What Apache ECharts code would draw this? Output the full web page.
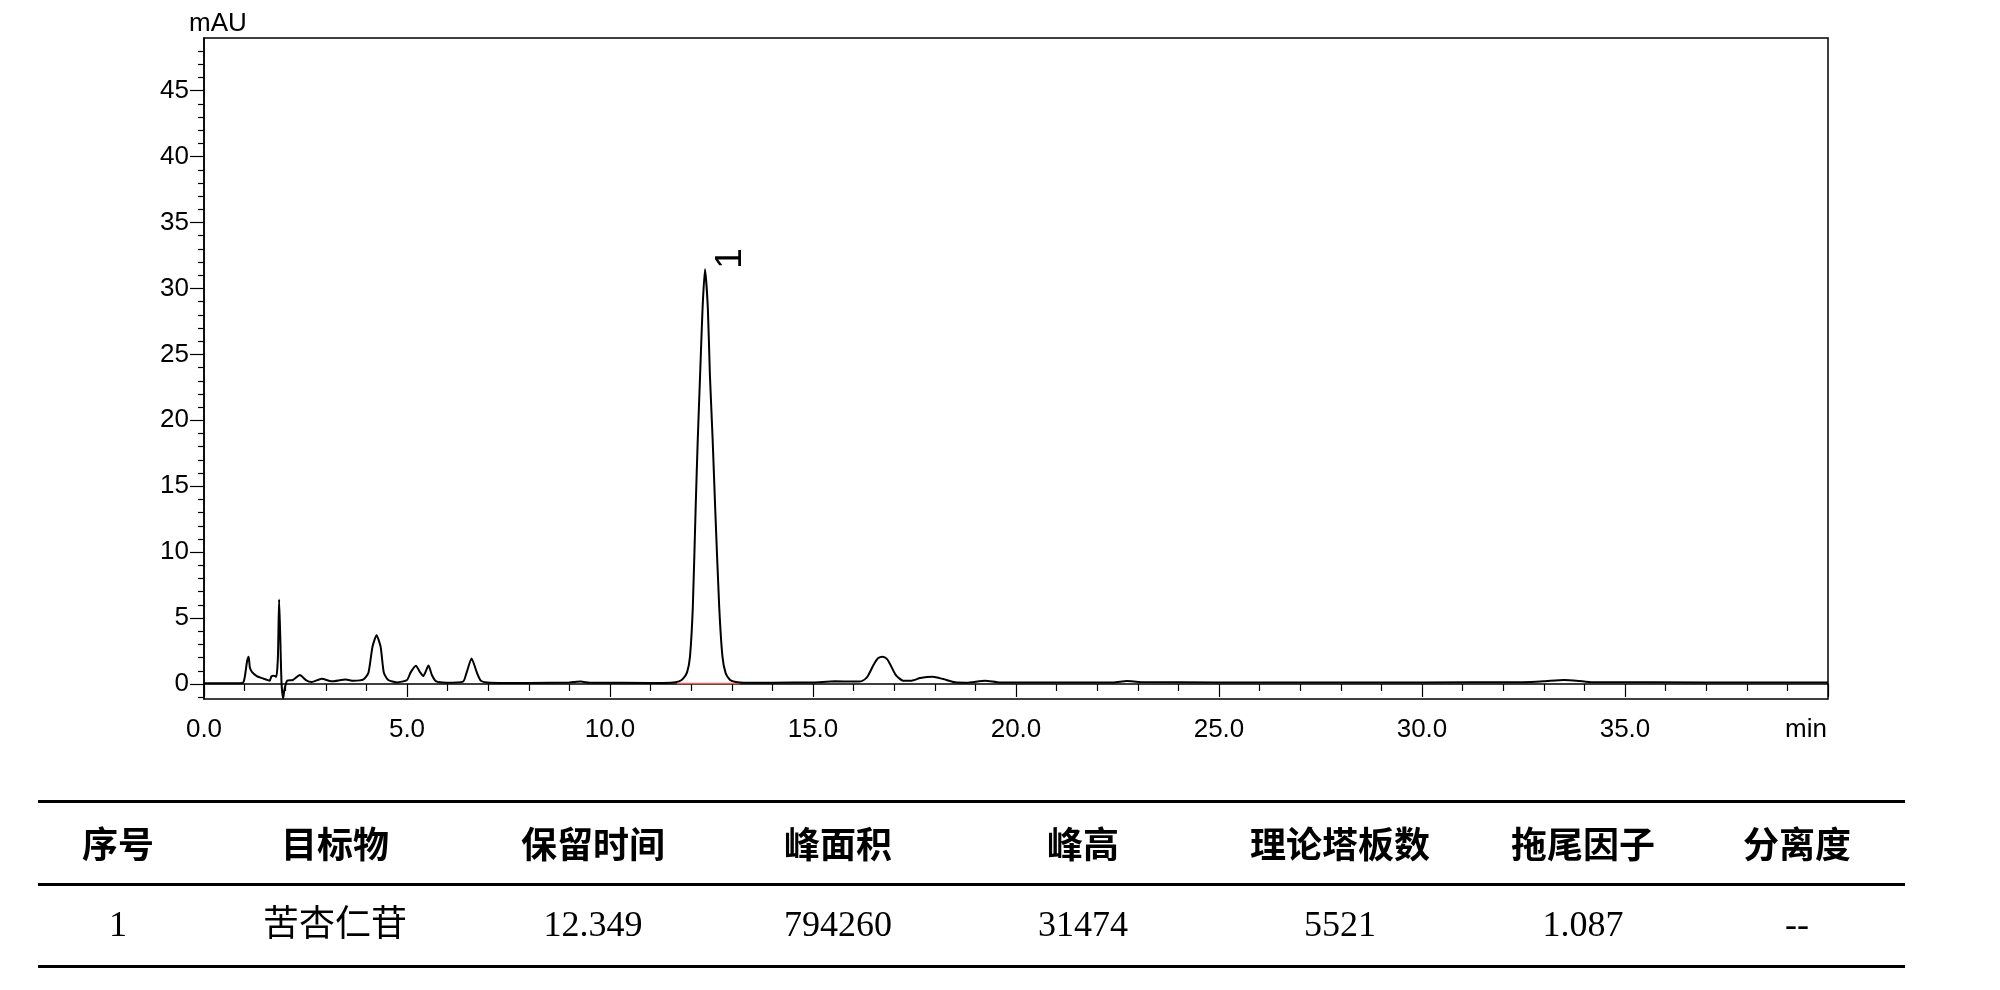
<!doctype html>
<html>
<head>
<meta charset="UTF-8">
<title>色谱图</title>
<script src="https://cdn.jsdelivr.net/npm/echarts@6.0.0/dist/echarts.min.js"></script>
<style>
  html, body { margin: 0; padding: 0; background: #fff; }
  #main { width: 2000px; height: 990px; }
</style>
</head>
<body>
<div id="main"></div>
<script>
// chromatogram trace: [min, mAU]
var trace = [
  [0, 0.05], [0.5, 0.05], [0.95, 0.08], [1.0, 0.45], [1.06, 1.7], [1.10, 2.06],
  [1.13, 1.25], [1.18, 0.92], [1.3, 0.6], [1.47, 0.4], [1.62, 0.25], [1.66, 0.58],
  [1.72, 0.62], [1.78, 0.55], [1.82, 2.0], [1.85, 6.4], [1.88, 3.4], [1.91, 0.05],
  [1.95, -1.1], [1.98, -0.45], [2.02, 0.05], [2.05, 0.25], [2.19, 0.3], [2.36, 0.68],
  [2.51, 0.3], [2.65, 0.15], [2.9, 0.4], [3.14, 0.2], [3.49, 0.33], [3.68, 0.25],
  [3.93, 0.35], [4.05, 0.85], [4.15, 2.82], [4.25, 3.7], [4.35, 2.82], [4.43, 0.85],
  [4.54, 0.3], [4.75, 0.12], [5.0, 0.3], [5.09, 0.88], [5.22, 1.38], [5.32, 0.9],
  [5.40, 0.6], [5.53, 1.40], [5.61, 0.7], [5.71, 0.22], [5.97, 0.1], [6.38, 0.18],
  [6.47, 0.88], [6.59, 1.94], [6.72, 0.88], [6.82, 0.25], [7.05, 0.1], [8.0, 0.08],
  [9.0, 0.12], [9.28, 0.18], [9.5, 0.1], [11.0, 0.08], [11.5, 0.1], [11.7, 0.2],
  [11.8, 0.4], [11.9, 0.9], [11.97, 2.07], [12.04, 5.85], [12.11, 13.4], [12.16, 18.4],
  [12.22, 23.5], [12.28, 28.5], [12.34, 31.45], [12.41, 28.5], [12.46, 23.5], [12.53, 18.4],
  [12.59, 13.4], [12.69, 5.85], [12.77, 2.07], [12.85, 0.8], [12.96, 0.3], [13.1, 0.15],
  [13.3, 0.1], [14.0, 0.1], [15.0, 0.12], [15.54, 0.2], [16.0, 0.18], [16.2, 0.22],
  [16.34, 0.55], [16.49, 1.44], [16.6, 1.95], [16.72, 2.07], [16.82, 1.9], [16.90, 1.5],
  [17.04, 0.68], [17.22, 0.25], [17.43, 0.25], [17.64, 0.45], [17.95, 0.55], [18.21, 0.37],
  [18.5, 0.13], [18.78, 0.1], [19.24, 0.25], [19.6, 0.12], [21.0, 0.12], [22.4, 0.12],
  [22.73, 0.22], [23.06, 0.15], [25, 0.12], [28, 0.12], [30, 0.12], [32.49, 0.13],
  [33.0, 0.2], [33.5, 0.3], [34.0, 0.18], [34.25, 0.13], [37, 0.12], [40, 0.12]
];
// integration baseline under peak 1
var baseline = [[11.65, 0.04], [13.2, 0.04]];

var peakLabel = '1';
var peakRt = 12.349;
var peakTop = 31.45;

var yMajor = [0, 5, 10, 15, 20, 25, 30, 35, 40, 45];
var yMinor = [-1, 1, 2, 3, 4, 6, 7, 8, 9, 11, 12, 13, 14, 16, 17, 18, 19, 21, 22, 23, 24,
  26, 27, 28, 29, 31, 32, 33, 34, 36, 37, 38, 39, 41, 42, 43, 44, 46, 47, 48];

var tableHead = ['序号', '目标物', '保留时间', '峰面积', '峰高', '理论塔板数', '拖尾因子', '分离度'];
var tableRow = ['1', '苦杏仁苷', '12.349', '794260', '31474', '5521', '1.087', '--'];

// layout
var colX = [118, 335, 593, 838, 1083, 1340, 1583, 1797];
var sans = '"Liberation Sans", Arial, sans-serif';

var chart = echarts.init(document.getElementById('main'));

var graphics = [
  { type: 'text', left: 189, top: 11, style: { text: 'mAU', font: '26px ' + sans, fill: '#000' } },
  { type: 'text', x: 1827, y: 730, style: { text: 'min', font: '26px ' + sans, fill: '#000', align: 'right', verticalAlign: 'middle' } }
];
[801.5, 884.5, 966.5].forEach(function (y) {
  graphics.push({ type: 'line', shape: { x1: 38, y1: y, x2: 1905, y2: y }, style: { stroke: '#000', lineWidth: 3 } });
});
tableHead.forEach(function (t, i) {
  graphics.push({ type: 'text', x: colX[i], y: 844, style: {
    text: t, font: 'bold 36px "Noto Sans CJK SC", sans-serif', fill: '#000', align: 'center', verticalAlign: 'middle' } });
});
tableRow.forEach(function (t, i) {
  graphics.push({ type: 'text', x: colX[i], y: 927, style: {
    text: t, font: '36px "Liberation Serif", "Noto Sans CJK SC", serif', fill: '#000', align: 'center', verticalAlign: 'middle' } });
});

var option = {
  animation: false,
  backgroundColor: '#fff',
  grid: { left: 204, right: 172, top: 38, bottom: 291, show: true, borderColor: '#000', borderWidth: 1.5 },
  xAxis: {
    type: 'value', min: 0, max: 40, interval: 5,
    axisLine: { show: true, lineStyle: { color: '#000', width: 1.5 } },
    axisTick: { show: true, length: 13, lineStyle: { color: '#000', width: 1.2 } },
    minorTick: { show: true, splitNumber: 5, length: 7, lineStyle: { color: '#000', width: 1.2 } },
    splitLine: { show: false },
    axisLabel: {
      margin: 18, color: '#000', fontSize: 26, fontFamily: sans,
      formatter: function (v) { return v === 40 ? '' : v.toFixed(1); }
    }
  },
  yAxis: [{
    type: 'value', min: -1.14, max: 49,
    axisLine: { show: true, lineStyle: { color: '#000', width: 1.5 } },
    axisTick: { show: true, length: 14, customValues: yMajor, lineStyle: { color: '#000', width: 1.2 } },
    splitLine: { show: false },
    axisLabel: { margin: 15, color: '#000', fontSize: 26, fontFamily: sans, customValues: yMajor }
  }, {
    type: 'value', min: -1.14, max: 49, position: 'left',
    axisLine: { show: false },
    axisTick: { show: true, length: 6, customValues: yMinor, lineStyle: { color: '#000', width: 1.2 } },
    splitLine: { show: false },
    axisLabel: { show: false }
  }],
  series: [{
    type: 'line', data: trace, yAxisIndex: 0, showSymbol: false, smooth: 0.2,
    lineStyle: { color: '#000', width: 2 }, z: 3
  }, {
    type: 'line', data: baseline, yAxisIndex: 0, showSymbol: false,
    lineStyle: { color: '#e8615b', width: 1.5 }, z: 2
  }],
  graphic: graphics
};
chart.setOption(option);

var apex = chart.convertToPixel({ gridIndex: 0 }, [peakRt, peakTop]);
graphics.push({ type: 'text', x: apex[0] + 25, y: apex[1] - 11, rotation: Math.PI / 2,
  style: { text: peakLabel, font: '37px ' + sans, fill: '#000', align: 'center', verticalAlign: 'middle' } });
chart.setOption({ graphic: graphics });
</script>
</body>
</html>
